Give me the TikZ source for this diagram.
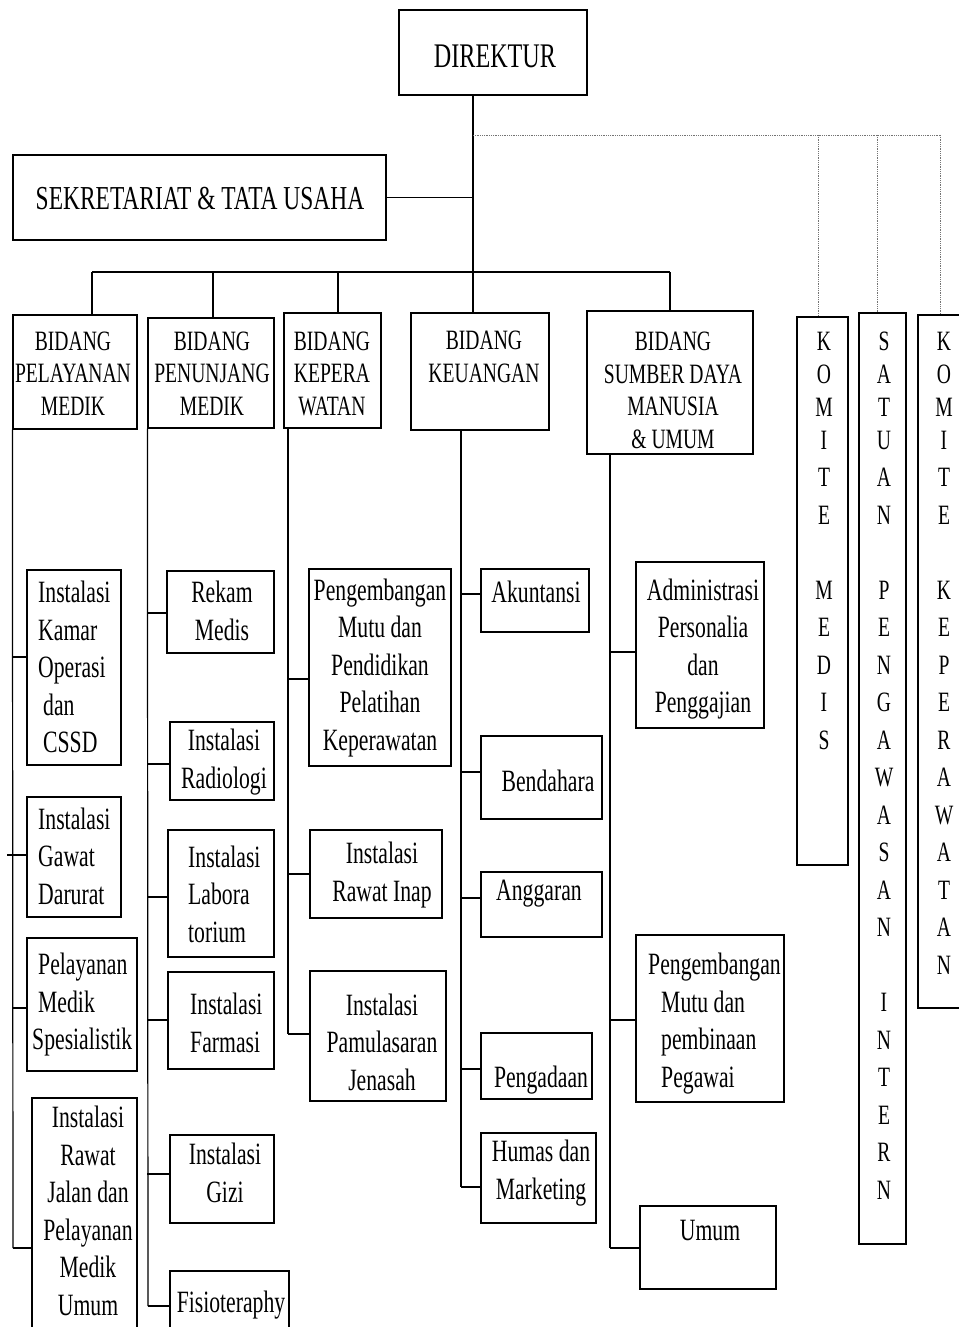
\documentclass[tikz,border=0pt]{standalone}
\usepackage{fontspec}
\setmainfont{Liberation Serif}[FakeStretch=0.70]
\usetikzlibrary{fit}
\begin{document}
\begin{tikzpicture}[x=1pt,y=-1pt,
  box/.style={draw, line width=1.2pt, inner sep=0pt},
  ln/.style={line width=1.2pt},
  txt/.style={inner sep=0pt, align=center, font=\fontsize{31}{37.5}\selectfont},
  hdr/.style={inner sep=0pt, align=center, font=\fontsize{28}{32.5}\selectfont},
  vt/.style={inner sep=0pt, align=center, font=\fontsize{28}{37.5}\selectfont},
  dot/.style={densely dotted, line width=0.8pt, black!55}]
\useasboundingbox (0,0) rectangle (958,1327);

% top level
\node[box, fit={(399,10) (587,95)}] (dir) {};
\node[txt, font=\fontsize{34.5}{40}\selectfont] (dirt) at (495,56) {DIREKTUR};
\node[box, fit={(13,155) (386,240)}] (sek) {};
\node[txt, font=\fontsize{33.5}{40}\selectfont] (sekt) at (200,199) {SEKRETARIAT \& TATA USAHA};

% bidang boxes
\node[box, fit={(13,315) (137,429)}] (pm) {};
\node[hdr] (pmt) at (73,373.5) {BIDANG\\PELAYANAN\\MEDIK};
\node[box, fit={(148,318) (274,428)}] (pn) {};
\node[hdr] (pnt) at (212,373.5) {BIDANG\\PENUNJANG\\MEDIK};
\node[box, fit={(284,313) (381,428)}] (kp) {};
\node[hdr] (kpt) at (332,373.5) {BIDANG\\KEPERA\\WATAN};
\node[box, fit={(411,313) (549,430)}] (ku) {};
\node[hdr] (kut) at (484,357) {BIDANG\\KEUANGAN};
\node[box, fit={(587,311) (753,454)}] (sd) {};
\node[hdr] (sdt) at (673,390.5) {BIDANG\\SUMBER DAYA\\MANUSIA\\\& UMUM};

% vertical boxes
\node[box, fit={(797,317) (848,865)}] (km) {};
\node[vt] (kmt) at (824,540.5) {K\\[-4.5pt]O\\[-4.5pt]M\\[-4.5pt]I\\T\\E\\~\\M\\E\\D\\I\\S};
\node[box, fit={(859,313) (906,1244)}] (sp) {};
\node[vt] (spt) at (884,765.5) {S\\[-4.5pt]A\\[-4.5pt]T\\[-4.5pt]U\\A\\N\\~\\P\\E\\N\\G\\A\\W\\A\\S\\A\\N\\~\\I\\N\\T\\E\\R\\N};
\node[box, fit={(918,315) (975,1008)}] (kk) {};
\node[vt] (kkt) at (944,653) {K\\[-4.5pt]O\\[-4.5pt]M\\[-4.5pt]I\\T\\E\\~\\K\\E\\P\\E\\R\\A\\W\\A\\T\\A\\N};

% pelayanan medik column
\node[box, fit={(27,570) (121,765)}] (ko) {};
\node[txt, align=left, anchor=west] (kot) at (38,667) {Instalasi\\Kamar\\Operasi\\\hspace*{5pt}dan\\\hspace*{5pt}CSSD};
\node[box, fit={(27,797) (121,917)}] (gd) {};
\node[txt, align=left, anchor=west] (gdt) at (38,856) {Instalasi\\Gawat\\Darurat};
\node[box, fit={(27,938) (137,1071)}] (ms) {};
\node[txt, align=left, anchor=west] (mst) at (32,1005) {\hspace*{6pt}Pelayanan\\\hspace*{6pt}Medik\\Spesialistik};
\node[box, fit={(32,1098) (137,1345)}] (rj) {};
\node[txt] (rjt) at (88,1211) {Instalasi\\Rawat\\Jalan dan\\Pelayanan\\Medik\\Umum};

% penunjang medik column
\node[box, fit={(167,571) (274,653)}] (rm) {};
\node[txt] (rmt) at (222,611) {Rekam\\Medis};
\node[box, fit={(170,722) (274,800)}] (rd) {};
\node[txt] (rdt) at (224,762) {Instalasi\\Radiologi};
\node[box, fit={(168,830) (274,957)}] (lb) {};
\node[txt, align=left, anchor=west] (lbt) at (188,894) {Instalasi\\Labora\\torium};
\node[box, fit={(168,972) (274,1069)}] (fm) {};
\node[txt, align=left, anchor=west] (fmt) at (190,1023) {Instalasi\\Farmasi};
\node[box, fit={(170,1135) (274,1223)}] (gz) {};
\node[txt] (gzt) at (225,1173) {Instalasi\\Gizi};
\node[box, fit={(170,1271) (289,1345)}] (ft) {};
\node[txt] (ftt) at (231,1305) {Fisioteraphy};

% keperawatan column
\node[box, fit={(309,569) (451,766)}] (pk) {};
\node[txt] (pkt) at (380,668) {Pengembangan\\Mutu dan\\Pendidikan\\Pelatihan\\Keperawatan};
\node[box, fit={(310,830) (442,918)}] (ri) {};
\node[txt] (rit) at (382,875) {Instalasi\\Rawat Inap};
\node[box, fit={(310,971) (446,1101)}] (pj) {};
\node[txt] (pjt) at (382,1042) {Instalasi\\Pamulasaran\\Jenasah};

% keuangan column
\node[box, fit={(481,569) (589,632)}] (ak) {};
\node[txt] (akt) at (536,592) {Akuntansi};
\node[box, fit={(481,736) (602,819)}] (bd) {};
\node[txt] (bdt) at (548,781) {Bendahara};
\node[box, fit={(481,872) (602,937)}] (ag) {};
\node[txt] (agt) at (539,894) {Anggaran};
\node[box, fit={(481,1033) (592,1099)}] (pg) {};
\node[txt] (pgt) at (541,1080) {Pengadaan};
\node[box, fit={(481,1133) (596,1223)}] (hm) {};
\node[txt] (hmt) at (541,1173) {Humas dan\\Marketing};

% sdm column
\node[box, fit={(636,562) (764,728)}] (ad) {};
\node[txt] (adt) at (703,649) {Administrasi\\Personalia\\dan\\Penggajian};
\node[box, fit={(636,935) (784,1102)}] (ps) {};
\node[txt, align=left, anchor=west] (pst) at (661,1023.5) {\hspace*{-13pt}Pengembangan\\Mutu dan\\pembinaan\\Pegawai};
\node[box, fit={(640,1206) (776,1289)}] (um) {};
\node[txt] (umt) at (710,1230) {Umum};

% top tree
\coordinate (tr) at (473,0);
\draw[ln] (dir.south -| tr) -- (ku.north -| tr);
\draw[ln] (sek.east) -- (sek.east -| tr);
\coordinate (b1) at (92,272);
\coordinate (b2) at (213,272);
\coordinate (b3) at (338,272);
\coordinate (b5) at (670,272);
\draw[ln] (b1) -- (b5);
\draw[ln] (b1) -- (pm.north -| b1);
\draw[ln] (b2) -- (pn.north -| b2);
\draw[ln] (b3) -- (kp.north -| b3);
\draw[ln] (b5) -- (sd.north -| b5);

% dotted links
\coordinate (dt) at (473,135);
\coordinate (d1) at (818,135);
\coordinate (d2) at (877,135);
\coordinate (d3) at (940,135);
\draw[dot] (dt) -- (d3);
\draw[dot] (d1) -- (km.north -| d1);
\draw[dot] (d2) -- (sp.north -| d2);
\draw[dot] (d3) -- (kk.north -| d3);

% pelayanan trunk
\coordinate (t1) at (pm.south west);
\coordinate (t1e) at (13,1248);
\draw[ln] (t1) -- (t1e);
\draw[ln] (t1 |- 0,657) -- (ko.west |- 0,657);
\coordinate (gdl) at (7,855);
\draw[ln] (gdl) -- (gd.west |- gdl);
\draw[ln] (t1 |- 0,1008) -- (ms.west |- 0,1008);
\draw[ln] (t1e) -- (rj.west |- t1e);

% penunjang trunk
\coordinate (t2) at (pn.south west);
\coordinate (t2e) at (148,1306);
\draw[ln] (t2) -- (t2e);
\draw[ln] (t2 |- 0,613) -- (rm.west |- 0,613);
\draw[ln] (t2 |- 0,764) -- (rd.west |- 0,764);
\draw[ln] (t2 |- 0,897) -- (lb.west |- 0,897);
\draw[ln] (t2 |- 0,1020) -- (fm.west |- 0,1020);
\draw[ln] (t2 |- 0,1174) -- (gz.west |- 0,1174);
\draw[ln] (t2e) -- (ft.west |- t2e);

% keperawatan trunk
\coordinate (t3) at (288,428);
\coordinate (t3e) at (288,1034);
\draw[ln] (t3) -- (t3e);
\draw[ln] (t3 |- 0,679) -- (pk.west |- 0,679);
\draw[ln] (t3 |- 0,874) -- (ri.west |- 0,874);
\draw[ln] (t3e) -- (pj.west |- t3e);

% keuangan trunk
\coordinate (t4) at (461,430);
\coordinate (t4e) at (461,1187);
\draw[ln] (t4) -- (t4e);
\draw[ln] (t4 |- 0,594) -- (ak.west |- 0,594);
\draw[ln] (t4 |- 0,772) -- (bd.west |- 0,772);
\draw[ln] (t4 |- 0,898) -- (ag.west |- 0,898);
\draw[ln] (t4 |- 0,1069) -- (pg.west |- 0,1069);
\draw[ln] (t4e) -- (hm.west |- t4e);

% sdm trunk
\coordinate (t5) at (610,454);
\coordinate (t5e) at (610,1248);
\draw[ln] (t5) -- (t5e);
\draw[ln] (t5 |- 0,652) -- (ad.west |- 0,652);
\draw[ln] (t5 |- 0,1020) -- (ps.west |- 0,1020);
\draw[ln] (t5e) -- (um.west |- t5e);
\end{tikzpicture}
\end{document}
